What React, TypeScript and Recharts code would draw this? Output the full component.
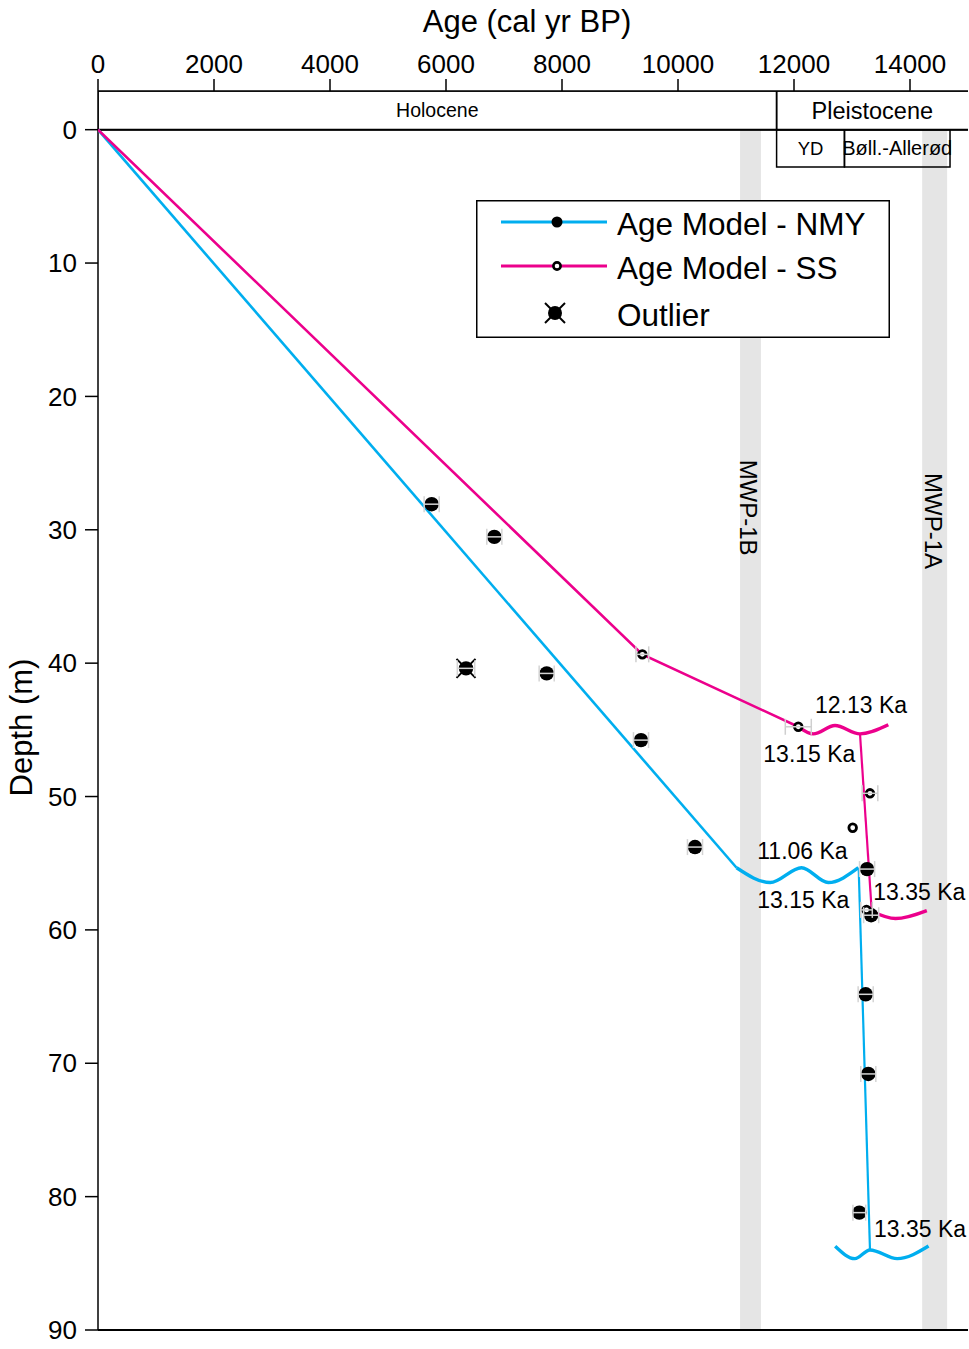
import React from 'react';
import {
  ComposedChart,
  XAxis,
  YAxis,
  Scatter,
  ReferenceArea,
  ReferenceLine,
  ErrorBar,
  Legend,
} from 'recharts';

const BLUE = '#00AEEF';
const PINK = '#EC008C';
const FONT = '"Liberation Sans", Arial, Helvetica, sans-serif';

// Axis ticks
const xTicks = [0, 2000, 4000, 6000, 8000, 10000, 12000, 14000];
const yTicks = [0, 10, 20, 30, 40, 50, 60, 70, 80, 90];

// Age model NMY (blue)
const nmyModelUpper = [
  { age: 0, depth: 0 },
  { age: 11010, depth: 55.34 },
];
const nmyHiatusUpper = [
  { age: 11010, depth: 55.34 },
  { age: 11590, depth: 56.45 },
  { age: 12130, depth: 55.34 },
  { age: 12590, depth: 56.45 },
  { age: 13110, depth: 55.34 },
];
const nmyModelLower = [
  { age: 13115, depth: 55.34 },
  { age: 13310, depth: 84.0 },
];
const nmyHiatusLower = [
  { age: 12710, depth: 83.72 },
  { age: 13050, depth: 84.65 },
  { age: 13310, depth: 84.0 },
  { age: 13780, depth: 84.65 },
  { age: 14320, depth: 83.7 },
];

// Age model SS (pink)
const ssModelUpper = [
  { age: 0, depth: 0 },
  { age: 9385, depth: 39.34 },
  { age: 12074, depth: 44.77 },
];
const ssHiatusUpper = [
  { age: 12074, depth: 44.77 },
  { age: 12333, depth: 45.3 },
  { age: 12707, depth: 44.68 },
  { age: 13138, depth: 45.3 },
  { age: 13626, depth: 44.62 },
];
const ssModelLower = [
  { age: 13138, depth: 45.3 },
  { age: 13340, depth: 58.6 },
];
const ssHiatusLower = [
  { age: 13340, depth: 58.6 },
  { age: 13750, depth: 59.15 },
  { age: 14290, depth: 58.55 },
];

// Dated samples
const nmyDates = [
  { age: 5753, depth: 28.08, err: 130 },
  { age: 6833, depth: 30.53, err: 130 },
  { age: 7736, depth: 40.77, err: 130 },
  { age: 9362, depth: 45.77, err: 130 },
  { age: 10293, depth: 53.79, err: 130 },
  { age: 13260, depth: 55.44, err: 130 },
  { age: 13330, depth: 58.9, err: 130 },
  { age: 13236, depth: 64.83, err: 130 },
  { age: 13281, depth: 70.8, err: 130 },
  { age: 13126, depth: 81.2, err: 110 },
];
const ssDates = [
  { age: 9385, depth: 39.34, err: 110 },
  { age: 12074, depth: 44.77, err: 224 },
  { age: 13310, depth: 49.76, err: 135 },
  { age: 13012, depth: 52.34, err: 0 },
  { age: 13250, depth: 58.5, err: 100 },
];
const outliers = [{ age: 6345, depth: 40.39, err: 150 }];

// Annotations
const hiatusLabels = [
  { age: 12362, depth: 43.74, text: '12.13 Ka' },
  { age: 11471, depth: 47.39, text: '13.15 Ka' },
  { age: 11367, depth: 54.69, text: '11.06 Ka' },
  { age: 11367, depth: 58.39, text: '13.15 Ka' },
  { age: 13367, depth: 57.76, text: '13.35 Ka' },
  { age: 13379, depth: 83.0, text: '13.35 Ka' },
];
const mwpLabels = [
  { age: 11212, depth: 28.34, text: 'MWP-1B' },
  { age: 14402, depth: 29.35, text: 'MWP-1A' },
];

// Periods (boxEnd lets the open-ended Pleistocene box run past the axis)
const epochs = [
  { name: 'Holocene', start: 0, end: 11700, boxEnd: 11700, size: 19.5 },
  { name: 'Pleistocene', start: 11700, end: 15000, boxEnd: 15300, size: 23.5 },
];
const stages = [
  { name: 'YD', start: 11700, end: 12870, size: 18.5 },
  { name: 'Bøll.-Allerød', start: 12870, end: 14690, size: 20 },
];
const mwpBands = [
  { name: 'MWP-1B', start: 11070, end: 11430 },
  { name: 'MWP-1A', start: 14210, end: 14640 },
];
const EPOCH_TOP = -2.9;
const STAGE_BOTTOM = 2.8;

const NoDot = () => <g />;
const NmyDot = (p: any) => <circle cx={p.cx} cy={p.cy} r={7.2} fill="#000" />;
const SsDot = (p: any) => (
  <circle cx={p.cx} cy={p.cy} r={3.8} fill="#fff" stroke="#000" strokeWidth={2.8} />
);
const OutlierDot = (p: any) => (
  <g>
    <circle cx={p.cx} cy={p.cy} r={7.2} fill="#000" />
    <line x1={p.cx - 9.5} y1={p.cy - 9.5} x2={p.cx + 9.5} y2={p.cy + 9.5} stroke="#000" strokeWidth={2} />
    <line x1={p.cx - 9.5} y1={p.cy + 9.5} x2={p.cx + 9.5} y2={p.cy - 9.5} stroke="#000" strokeWidth={2} />
  </g>
);
const HiatusText = (p: any) => (
  <text x={p.cx} y={p.cy} fontSize={23} fontFamily={FONT} fill="#000">
    {p.payload.text}
  </text>
);
const MwpText = (p: any) => (
  <text
    x={p.cx}
    y={p.cy}
    fontSize={24}
    fontFamily={FONT}
    fill="#000"
    textAnchor="middle"
    dominantBaseline="central"
    transform={`rotate(90, ${p.cx}, ${p.cy})`}
  >
    {p.payload.text}
  </text>
);

const LegendBox = () => (
  <svg width={414} height={138} style={{ display: 'block' }}>
    <rect x={0.75} y={0.75} width={412.5} height={136.5} fill="#fff" stroke="#000" strokeWidth={1.5} />
    <line x1={25} y1={22} x2={131} y2={22} stroke={BLUE} strokeWidth={3} />
    <circle cx={81} cy={22} r={5.5} fill="#000" />
    <text x={141} y={35} fontSize={31.5} fontFamily={FONT} fill="#000">Age Model - NMY</text>
    <line x1={25} y1={66} x2={131} y2={66} stroke={PINK} strokeWidth={3} />
    <circle cx={81} cy={66} r={3.6} fill="#fff" stroke="#000" strokeWidth={2.6} />
    <text x={141} y={79} fontSize={31.5} fontFamily={FONT} fill="#000">Age Model - SS</text>
    <circle cx={79} cy={113} r={7} fill="#000" />
    <line x1={69} y1={103} x2={89} y2={123} stroke="#000" strokeWidth={2} />
    <line x1={69} y1={123} x2={89} y2={103} stroke="#000" strokeWidth={2} />
    <text x={141} y={126} fontSize={31.5} fontFamily={FONT} fill="#000">Outlier</text>
  </svg>
);

const XTitle = (props: any) => {
  const vb = props.viewBox || { x: 98, y: 51, width: 870, height: 40 };
  return (
    <text x={vb.x + vb.width / 2 - 6} y={vb.y - 19} textAnchor="middle" fontSize={31} fontFamily={FONT} fill="#000">
      Age (cal yr BP)
    </text>
  );
};
const YTitle = (props: any) => {
  const vb = props.viewBox || { x: 38, y: 91, width: 60, height: 1239 };
  const cx = vb.x - 6;
  const cy = vb.y + vb.height / 2 + 17;
  return (
    <text x={cx} y={cy} textAnchor="middle" fontSize={31} fontFamily={FONT} fill="#000" transform={`rotate(-90, ${cx}, ${cy})`}>
      Depth (m)
    </text>
  );
};

const ERR_Z = 1500;

export default function App() {
  return (
    <div style={{ position: 'absolute', left: 0, top: 0, width: 969, height: 1349, background: '#fff', fontFamily: FONT }}>
      <ComposedChart width={969} height={1349} margin={{ top: 51, right: 1, bottom: 19, left: 38 }}>
        <XAxis
          dataKey="age"
          type="number"
          orientation="top"
          domain={[0, 15000]}
          ticks={xTicks}
          interval={0}
          allowDataOverflow
          height={40}
          tickSize={12}
          tickMargin={6}
          axisLine={{ stroke: '#000', strokeWidth: 1.5 }}
          tickLine={{ stroke: '#000', strokeWidth: 1.5 }}
          tick={{ fill: '#000', fontSize: 26, fontFamily: FONT }}
          label={{ content: XTitle }}
        />
        <YAxis
          dataKey="depth"
          type="number"
          reversed
          domain={[EPOCH_TOP, 90]}
          ticks={yTicks}
          interval={0}
          allowDataOverflow
          width={60}
          tickSize={13}
          tickMargin={8}
          axisLine={{ stroke: '#000', strokeWidth: 1.5 }}
          tickLine={{ stroke: '#000', strokeWidth: 1.5 }}
          tick={{ fill: '#000', fontSize: 26, fontFamily: FONT }}
          label={{ content: YTitle }}
        />

        {mwpBands.map((b) => (
          <ReferenceArea
            key={b.name}
            x1={b.start}
            x2={b.end}
            y1={0}
            y2={90}
            fill="#e5e5e5"
            fillOpacity={1}
            stroke="none"
          />
        ))}
        {epochs.map((e) => (
          <ReferenceArea
            key={e.name + '-box'}
            x1={e.start}
            x2={e.boxEnd}
            y1={EPOCH_TOP}
            y2={0}
            ifOverflow="hidden"
            fill="none"
            fillOpacity={0}
            stroke="#000"
            strokeWidth={1.5}
          />
        ))}
        {epochs.map((e) => (
          <ReferenceArea
            key={e.name + '-label'}
            x1={e.start}
            x2={e.end}
            y1={EPOCH_TOP}
            y2={0}
            fill="none"
            fillOpacity={0}
            stroke="none"
            label={{ value: e.name, position: 'center', fontSize: e.size, fontFamily: FONT, fill: '#000' }}
          />
        ))}
        {stages.map((s) => (
          <ReferenceArea
            key={s.name}
            x1={s.start}
            x2={s.end}
            y1={0}
            y2={STAGE_BOTTOM}
            fill="none"
            fillOpacity={0}
            stroke="#000"
            strokeWidth={1.5}
            label={{ value: s.name, position: 'center', fontSize: s.size, fontFamily: FONT, fill: '#000' }}
          />
        ))}
        <ReferenceLine y={0} stroke="#000" strokeWidth={2} />
        <ReferenceLine y={90} stroke="#000" strokeWidth={2} />

        <Scatter data={mwpLabels} shape={MwpText} isAnimationActive={false} />

        <Scatter data={nmyModelUpper} fill={BLUE} line={{ stroke: BLUE, strokeWidth: 2.6 }} lineJointType="linear" shape={NoDot} isAnimationActive={false} />
        <Scatter data={nmyHiatusUpper} fill={BLUE} line={{ stroke: BLUE, strokeWidth: 3.4 }} lineJointType="monotoneX" shape={NoDot} isAnimationActive={false} />
        <Scatter data={nmyModelLower} fill={BLUE} line={{ stroke: BLUE, strokeWidth: 2.2 }} lineJointType="linear" shape={NoDot} isAnimationActive={false} />
        <Scatter data={nmyHiatusLower} fill={BLUE} line={{ stroke: BLUE, strokeWidth: 3.4 }} lineJointType="monotoneX" shape={NoDot} isAnimationActive={false} />

        <Scatter data={ssModelUpper} fill={PINK} line={{ stroke: PINK, strokeWidth: 2.6 }} lineJointType="linear" shape={NoDot} isAnimationActive={false} />
        <Scatter data={ssHiatusUpper} fill={PINK} line={{ stroke: PINK, strokeWidth: 3.4 }} lineJointType="monotoneX" shape={NoDot} isAnimationActive={false} />
        <Scatter data={ssModelLower} fill={PINK} line={{ stroke: PINK, strokeWidth: 2.2 }} lineJointType="linear" shape={NoDot} isAnimationActive={false} />
        <Scatter data={ssHiatusLower} fill={PINK} line={{ stroke: PINK, strokeWidth: 3.4 }} lineJointType="monotoneX" shape={NoDot} isAnimationActive={false} />

        <Scatter data={nmyDates} shape={NmyDot} isAnimationActive={false} />
        <Scatter data={outliers} shape={OutlierDot} isAnimationActive={false} />
        <Scatter data={ssDates} shape={SsDot} isAnimationActive={false} />

        <Scatter data={nmyDates} shape={NoDot} isAnimationActive={false} {...({ zIndex: ERR_Z } as any)}>
          <ErrorBar dataKey="err" direction="x" width={8} stroke="#d4d4d4" strokeWidth={1.5} {...({ zIndex: ERR_Z } as any)} />
        </Scatter>
        <Scatter data={outliers} shape={NoDot} isAnimationActive={false} {...({ zIndex: ERR_Z } as any)}>
          <ErrorBar dataKey="err" direction="x" width={8} stroke="#d4d4d4" strokeWidth={1.5} {...({ zIndex: ERR_Z } as any)} />
        </Scatter>
        <Scatter data={ssDates} shape={NoDot} isAnimationActive={false} {...({ zIndex: ERR_Z } as any)}>
          <ErrorBar dataKey="err" direction="x" width={8} stroke="#cfcfcf" strokeWidth={1.5} {...({ zIndex: ERR_Z } as any)} />
        </Scatter>

        <Scatter data={hiatusLabels} shape={HiatusText} isAnimationActive={false} />

        <Legend
          layout="vertical"
          align="center"
          verticalAlign="middle"
          content={LegendBox}
          wrapperStyle={{ left: 476, top: 200, width: 414, height: 138 }}
        />
      </ComposedChart>
    </div>
  );
}
